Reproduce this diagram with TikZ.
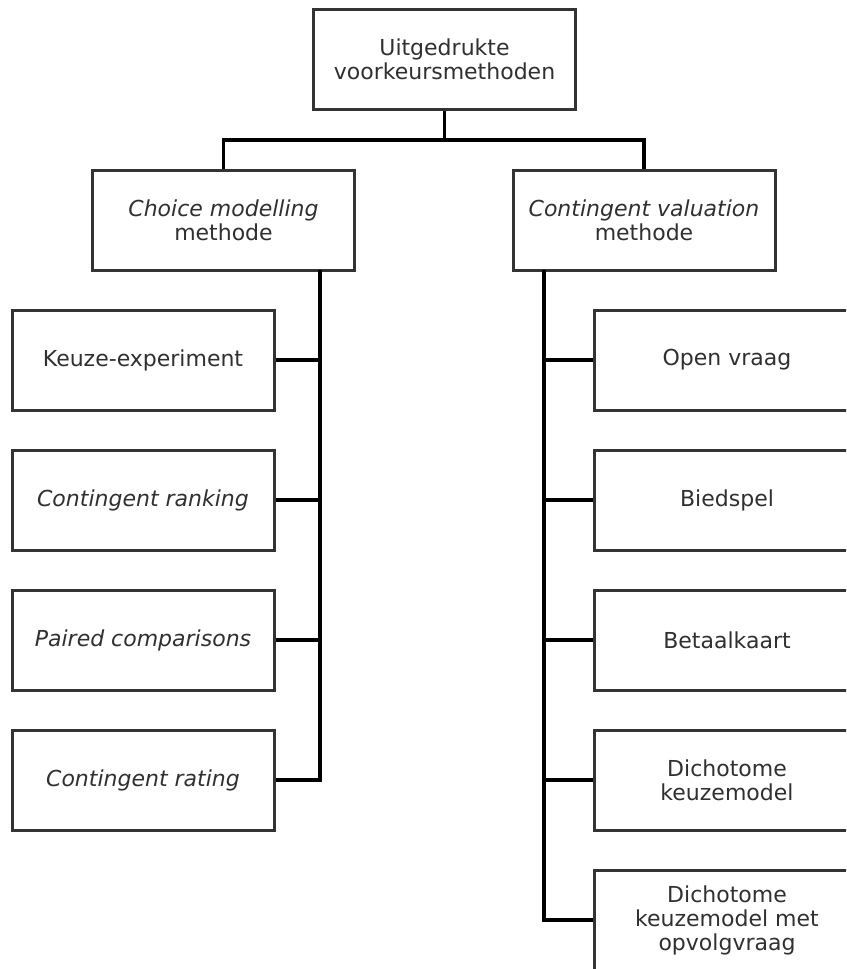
\documentclass[tikz,border=0pt]{standalone}
\usepackage{fontspec}
\setmainfont{DejaVu Sans}
\definecolor{boxline}{HTML}{333333}
\definecolor{boxtext}{HTML}{303030}
\tikzset{
  box/.style={draw=boxline,line width=1.5pt,fill=white,text=boxtext,align=center,
    minimum width=131pt,minimum height=50pt,inner sep=2pt,
    font=\fontsize{11}{12}\selectfont},
  link/.style={line width=1.7pt,black},
}
\begin{document}
\begin{tikzpicture}[x=0.5pt,y=-0.5pt]
  \clip (0,0) rectangle (846,969);
  \useasboundingbox (0,0) rectangle (846,969);
  \node[box] (top) at (444.5,59.5) {Uitgedrukte\\voorkeursmethoden};
  \node[box] (cm) at (223.5,220) {\textit{Choice modelling}\\methode};
  \node[box] (cv) at (644,220) {\textit{Contingent valuation}\\methode};
  \node[box] (ke) at (143,360) {Keuze-experiment};
  \node[box] (cra) at (143,500) {\textit{Contingent ranking}};
  \node[box] (pc) at (143,640) {\textit{Paired comparisons}};
  \node[box] (cr) at (143,780) {\textit{Contingent rating}};
  \node[box,minimum width=133pt] (ov) at (727,360) {Open vraag};
  \node[box,minimum width=133pt] (bs) at (727,500) {Biedspel};
  \node[box,minimum width=133pt] (bk) at (727,640) {Betaalkaart};
  \node[box,minimum width=133pt] (dk) at (727,780) {Dichotome\\keuzemodel};
  \node[box,minimum width=133pt] (dko) at (727,920) {Dichotome\\keuzemodel met\\opvolgvraag};
  \coordinate (split) at (444.5,140);
  \coordinate (lbus) at (320,270);
  \coordinate (rbus) at (544,270);
  \draw[link] (top.south) -- (split);
  \draw[link] (split) -| (cm.north);
  \draw[link] (split) -| (cv.north);
  \draw[link] (lbus) |- (cr.east);
  \foreach \n in {ke,cra,pc}
    \draw[link] (\n.east) -- (\n.east -| lbus);
  \draw[link] (rbus) |- (dko.west);
  \foreach \n in {ov,bs,bk,dk}
    \draw[link] (\n.west) -- (\n.west -| rbus);
\end{tikzpicture}
\end{document}
